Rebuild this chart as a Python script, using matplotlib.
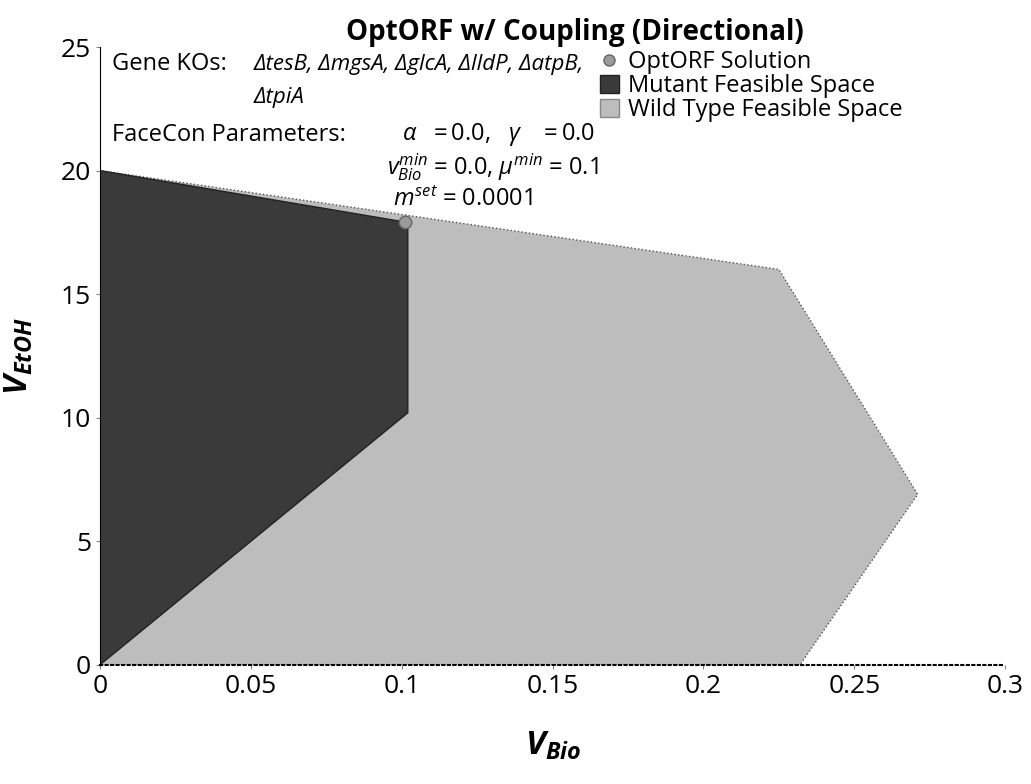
import matplotlib
matplotlib.use("Agg")
import matplotlib.pyplot as plt
from matplotlib.lines import Line2D
from matplotlib.patches import Patch

# data
wt_x = [0.0, 0.0, 0.225, 0.271, 0.232, 0.0]
wt_y = [0.0, 20.0, 16.0, 6.9, 0.0, 0.0]
mut_x = [0.0, 0.0, 0.102, 0.102, 0.0]
mut_y = [0.0, 20.0, 17.9, 10.2, 0.0]
sol_x = [0.101]
sol_y = [17.9]
x_ticks = [0, 0.05, 0.1, 0.15, 0.2, 0.25, 0.3]
x_labels = ['0', '0.05', '0.1', '0.15', '0.2', '0.25', '0.3']
y_ticks = [0, 5, 10, 15, 20, 25]

plt.rcParams['font.family'] = ['Open Sans', 'DejaVu Sans']
plt.rcParams['mathtext.fontset'] = 'custom'
plt.rcParams['mathtext.rm'] = 'Open Sans'
plt.rcParams['mathtext.it'] = 'Open Sans:italic'
plt.rcParams['mathtext.bf'] = 'Open Sans:bold:italic'

fig = plt.figure(figsize=(10.31, 7.84), dpi=100)
ax = fig.add_axes([0.097, 0.152, 0.878, 0.788])

ax.fill(wt_x, wt_y, color='#bdbdbd', edgecolor='#555555', linewidth=1, linestyle=':')
ax.fill(mut_x, mut_y, color='#3a3a3a', edgecolor='#222222', linewidth=1)
ax.plot(sol_x, sol_y, 'o', color='#9a9a9a', markersize=9, markeredgecolor='#666666')

ax.set_xlim(0, 0.3)
ax.set_ylim(0, 25)
ax.set_xticks(x_ticks)
ax.set_xticklabels(x_labels)
ax.set_yticks(y_ticks)
ax.tick_params(labelsize=19, length=3, color='#888888')
for s in ['top', 'right']:
    ax.spines[s].set_visible(False)
ax.spines['bottom'].set_linestyle(':')
ax.spines['bottom'].set_linewidth(1.5)

ax.set_title('OptORF w/ Coupling (Directional)', fontsize=20, fontweight='bold', pad=4, x=0.525)
ax.set_xlabel(r'$\mathbf{V_{Bio}}$', fontsize=24, labelpad=22)
ax.set_ylabel(r'$\mathbf{V_{EtOH}}$', fontsize=24, labelpad=18)

# annotation block
fs = 17
ax.text(0.004, 24.3, 'Gene KOs:', fontsize=fs, va='center')
ax.text(0.051, 24.3, '\u0394tesB, \u0394mgsA, \u0394glcA, \u0394lldP, \u0394atpB,',
        fontsize=16, style='italic', va='center')
ax.text(0.051, 22.95, '\u0394tpiA', fontsize=16, style='italic', va='center')
ax.text(0.004, 21.45, 'FaceCon Parameters:', fontsize=fs, va='center')
ax.text(0.100, 21.45, r'$\alpha\ \ = 0.0,\ \ \gamma\ \ \ = 0.0$', fontsize=fs, va='center')
ax.text(0.095, 20.15, r'$v_{Bio}^{min}$ = 0.0, $\mu^{min}$ = 0.1', fontsize=fs, va='center')
ax.text(0.097, 18.8, r'$m^{set}$ = 0.0001', fontsize=fs, va='center')

handles = [
    Line2D([], [], marker='o', linestyle='', color='#9a9a9a', markeredgecolor='#666666', markersize=8),
    Patch(facecolor='#3a3a3a', edgecolor='#222222'),
    Patch(facecolor='#bdbdbd', edgecolor='#888888'),
]
ax.legend(handles, ['OptORF Solution', 'Mutant Feasible Space', 'Wild Type Feasible Space'],
          loc='upper left', bbox_to_anchor=(0.552, 0.995), frameon=False, fontsize=17,
          handlelength=0.8, handleheight=0.8, handletextpad=0.4, labelspacing=0.0,
          borderaxespad=0, borderpad=0)

fig.savefig('out.png', dpi=100)
